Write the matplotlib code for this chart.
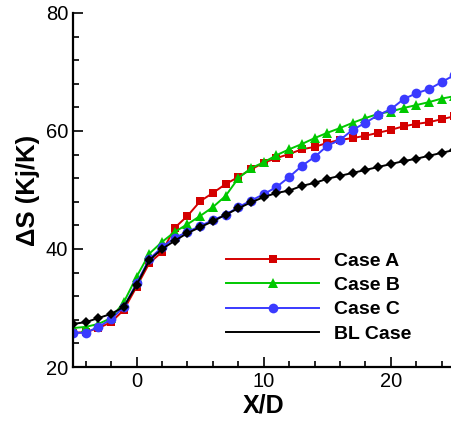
import matplotlib
matplotlib.use("Agg")
import matplotlib.pyplot as plt
from matplotlib.lines import Line2D
from matplotlib.ticker import MultipleLocator

plt.rcParams['font.family'] = ['Liberation Sans', 'DejaVu Sans']

x = list(range(-5, 26))
case_a = [25.8, 25.9, 26.6, 27.6, 29.7, 33.6, 37.6, 39.5, 43.6, 45.6, 48.1, 49.5, 51.0, 52.2, 53.5,
          54.6, 55.4, 56.1, 56.9, 57.3, 58.0, 58.5, 58.8, 59.2, 59.7, 60.2, 60.8, 61.2, 61.5, 62.0, 62.5]
case_b = [26.6, 26.8, 27.3, 28.3, 31.0, 35.3, 39.2, 41.2, 42.9, 44.2, 45.6, 47.1, 49.0, 52.0, 53.7,
          54.7, 55.9, 56.9, 57.8, 58.8, 59.7, 60.5, 61.4, 62.2, 62.9, 63.3, 63.9, 64.4, 64.9, 65.5, 65.9]
case_c = [25.8, 25.8, 26.8, 28.1, 30.2, 34.2, 38.3, 40.3, 41.9, 42.9, 43.9, 44.9, 45.8, 47.1, 48.2,
          49.3, 50.5, 52.2, 54.1, 55.6, 57.5, 58.5, 60.2, 61.4, 62.7, 63.7, 65.4, 66.4, 67.1, 68.3, 69.5]
bl_case = [27.3, 27.6, 28.3, 29.0, 30.2, 33.9, 38.1, 40.0, 41.4, 42.7, 43.7, 44.7, 45.8, 46.9, 47.9,
           48.8, 49.5, 49.9, 50.7, 51.2, 51.9, 52.4, 52.9, 53.4, 53.9, 54.4, 54.9, 55.3, 55.8, 56.3, 56.8]
labels = ["Case A", "Case B", "Case C", "BL Case"]

colors = ["#d40000", "#00c800", "#3a3aff", "#000000"]
markers = ["s", "^", "o", "D"]
msizes = [6, 6.5, 7, 5]

fig = plt.figure(figsize=(4.52, 4.23), dpi=100)
ax = fig.add_axes([73/452, 1-367/423, (454.5-73)/452, (367-13)/423])

series = [case_a, case_b, case_c, bl_case]
for s, c, m, ms in zip(series, colors, markers, msizes):
    ax.plot(x, s, color=c, marker=m, markersize=ms, linewidth=1.4, markeredgewidth=0)

ax.set_xlim(-5, 25)
ax.set_ylim(20, 80)
ax.xaxis.set_major_locator(MultipleLocator(10))
ax.xaxis.set_minor_locator(MultipleLocator(2))
ax.yaxis.set_major_locator(MultipleLocator(20))
ax.yaxis.set_minor_locator(MultipleLocator(4))
ax.tick_params(which="both", direction="in", width=1.2, labelsize=14.5)
ax.tick_params(which="major", length=7)
ax.tick_params(which="minor", length=4)
for sp in ["top", "right"]:
    ax.spines[sp].set_visible(False)
for sp in ["left", "bottom"]:
    ax.spines[sp].set_linewidth(1.6)

ax.set_xlabel("X/D", fontsize=18, fontweight="bold", labelpad=2)
ax.set_ylabel("ΔS (Kj/K)", fontsize=18.5, fontweight="bold", labelpad=4)

handles = []
for i, (c, m, ms) in enumerate(zip(colors, markers, msizes)):
    if i == 3:
        handles.append(Line2D([], [], color=c, linewidth=1.4))
    else:
        handles.append(Line2D([], [], color=c, marker=m, markersize=ms, linewidth=1.4, markeredgewidth=0))
leg = ax.legend(handles, labels, loc="upper left", bbox_to_anchor=(226/452, 1-252/423),
                bbox_transform=fig.transFigure, frameon=False, handlelength=4.8,
                handletextpad=0.75, labelspacing=0.35, borderpad=0, borderaxespad=0,
                prop={"weight": "bold", "size": 14})

fig.savefig("out.png", dpi=100)
